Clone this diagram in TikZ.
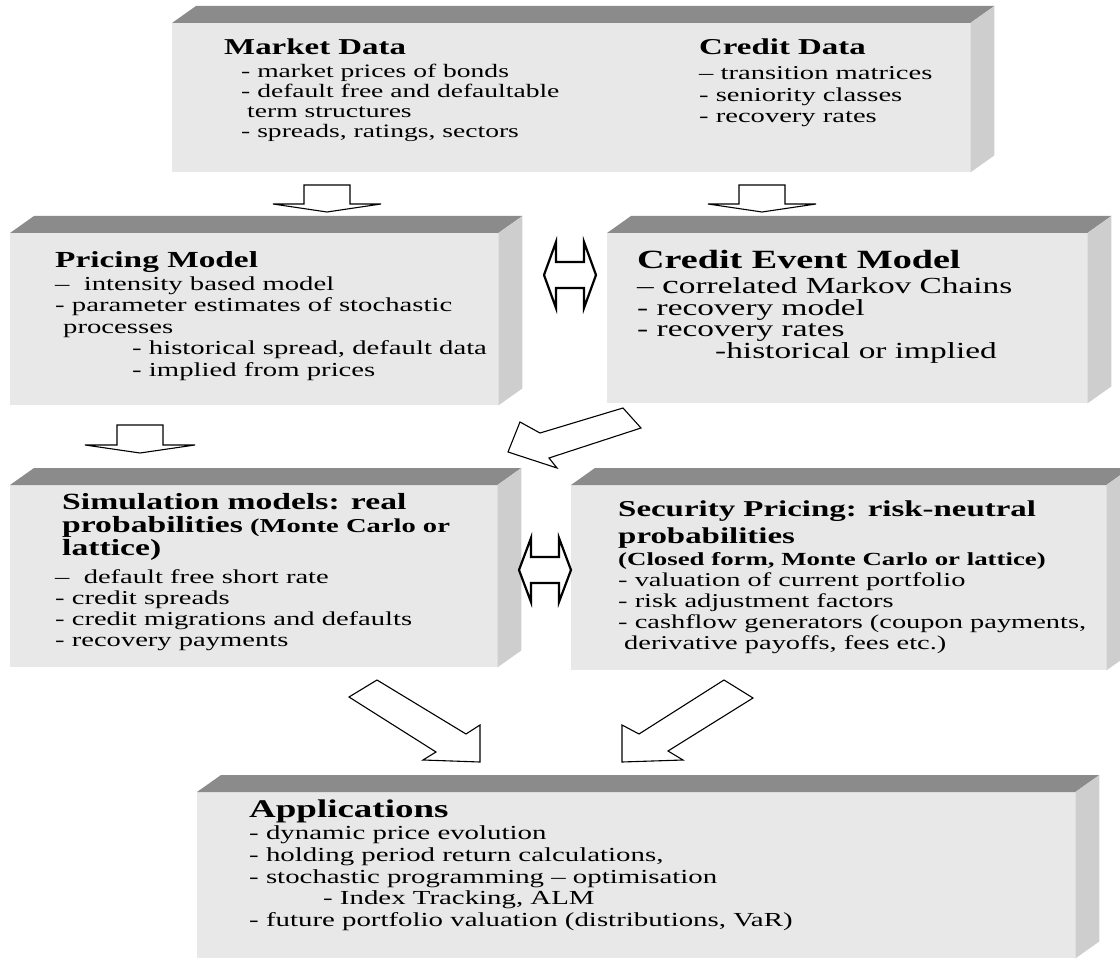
\documentclass[tikz,border=0pt]{standalone}
\usepackage{fontspec}
\setmainfont{Liberation Serif}[FakeStretch=1.45]

\definecolor{frontgray}{RGB}{232,232,232}
\definecolor{topgray}{RGB}{139,139,139}
\definecolor{sidegray}{RGB}{206,206,206}
\newcommand{\hd}[2][22.7]{{\fontsize{#1}{20}\selectfont\bfseries #2}}

\begin{document}
\begin{tikzpicture}[x=1pt, y=-1pt,
    face/.style={fill=frontgray, inner sep=0pt, anchor=north west},
    txt/.style={anchor=north west, inner sep=0pt, align=left, font=\fontsize{19}{20}\selectfont},
    blockarrow/.style={draw, fill=white, line width=1.1pt},
    twinarrow/.style={blockarrow, line width=2.2pt},
    pics/fatarrow/.style n args={4}{code={
        \draw[blockarrow] (0,#2) -- ({#1-#4},#2) -- ({#1-#4},#3) -- (#1,0)
            -- ({#1-#4},-#3) -- ({#1-#4},-#2) -- (0,-#2) -- cycle;}},
    pics/bothways/.style n args={4}{code={
        \draw[twinarrow] (0,0) -- (#4,-#3) -- (#4,-#2) -- ({#1-#4},-#2) -- ({#1-#4},-#3)
            -- (#1,0) -- ({#1-#4},#3) -- ({#1-#4},#2) -- (#4,#2) -- (#4,#3) -- cycle;}}]
\useasboundingbox (0,0) rectangle (1120,960);

% Boxes
\node[face, minimum width=798, minimum height=149] (data) at (172,23) {};
\node[face, minimum width=488, minimum height=172] (pricing) at (10,233) {};
\node[face, minimum width=480, minimum height=170] (event) at (607,233) {};
\node[face, minimum width=487, minimum height=182] (simulation) at (10,485) {};
\node[face, minimum width=535, minimum height=185] (security) at (571,485) {};
\node[face, minimum width=878, minimum height=166] (applications) at (197,792) {};
\foreach \b in {data,pricing,event,simulation,security,applications} {
    \fill[topgray] (\b.north west) -- ++(24,-17) -- ([shift={(24,-17)}]\b.north east) -- (\b.north east) -- cycle;
    \fill[sidegray] (\b.north east) -- ([shift={(24,-17)}]\b.north east) -- ([shift={(24,-17)}]\b.south east) -- (\b.south east) -- cycle;
}

% Texts
\node[txt] (datatxt) at (224,39) {\hd{Market Data}\\[3pt]
    \hspace*{17pt}- market prices of bonds\\
    \hspace*{17pt}- default free and defaultable\\
    \hspace*{23pt}term structures\\
    \hspace*{17pt}- spreads, ratings, sectors};
\node[txt, font=\fontsize{19.7}{21.5}\selectfont] (credtxt) at (699,39) {\hd{Credit Data}\\[3.5pt]
    – transition matrices\\
    - seniority classes\\
    - recovery rates};
\node[txt, font=\fontsize{19.8}{21.5}\selectfont] (pricetxt) at (55,251) {\hd[23]{Pricing Model}\\[1.5pt]
    – \ intensity based model\\
    - parameter estimates of stochastic\\
    \hspace*{8pt}processes\\
    \hspace*{77pt}- historical spread, default data\\
    \hspace*{77pt}- implied from prices};
\node[txt, font=\fontsize{23}{21.7}\selectfont] (eventtxt) at (637,250) {\hd[26.3]{Credit Event Model}\\[3.3pt]
    – {\fontsize{26}{20}\selectfont c}orrelated Markov Chains\\
    - recovery model\\
    - recovery rates\\
    \hspace*{78pt}-historical or implied};
\node[txt, font=\fontsize{19.7}{21}\selectfont] (simtxt) at (55,493) {\hspace*{7pt}\hd[23.2]{Simulation models: real}\\[2.5pt]
    \hspace*{7pt}\hd[23.2]{probabilities} {\bfseries(Monte Carlo or}\\[0.5pt]
    \hspace*{7pt}\hd[23.2]{lattice)}\\[7.5pt]
    – \ default free short rate\\
    - credit spreads\\
    - credit migrations and defaults\\
    - recovery payments};
\node[txt, font=\fontsize{19.6}{21}\selectfont] (sectxt) at (618,501) {\hd{Security Pricing: risk-neutral}\\[6pt]
    \hd{probabilities}\\[1pt]
    {\fontsize{18.5}{20}\selectfont\bfseries (Closed form, Monte Carlo or lattice)}\\
    - valuation of current portfolio\\
    - risk adjustment factors\\
    - cashflow generators (coupon payments,\\
    \hspace*{6pt}derivative payoffs, fees etc.)};
\node[txt, font=\fontsize{19.9}{21.7}\selectfont] (apptxt) at (249,800) {\hd[25.5]{Applications}\\[0.3pt]
    - dynamic price evolution\\
    - holding period return calculations,\\
    - stochastic programming – optimisation\\
    \hspace*{74pt}- Index Tracking, ALM\\
    - future portfolio valuation (distributions, VaR)};

% Arrows
\pic[rotate=-90] at (327,185) {fatarrow={27}{23}{54}{8}};
\pic[rotate=-90] at (762,185) {fatarrow={27}{23}{54}{8}};
\pic[rotate=-90] at (140,425) {fatarrow={28}{23}{55}{8}};
\pic at (544,275) {bothways={52}{13}{33}{12}};
\pic at (519,570) {bothways={52}{13}{32}{12}};
\draw[blockarrow] (623,408) -- (641,428) -- (549,458) -- (557,468) -- (508,452) -- (520,422) -- (540,433) -- cycle;
\draw[blockarrow] (349,697) -- (377,680) -- (466,734) -- (480,725) -- (480,762) -- (423,760) -- (436,752) -- cycle;
\draw[blockarrow] (753,698) -- (724,680) -- (639,734) -- (622,725) -- (622,762) -- (683,760) -- (668,751) -- cycle;
\end{tikzpicture}
\end{document}
